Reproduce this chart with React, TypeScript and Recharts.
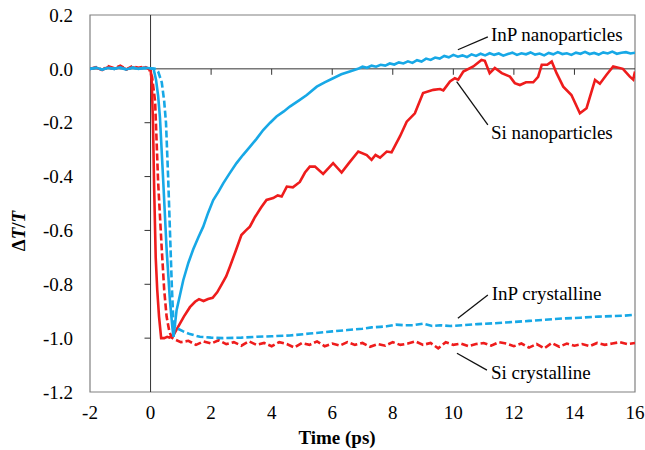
import React from 'react';
import { LineChart, Line, XAxis, YAxis, ReferenceLine, ReferenceArea, ReferenceDot } from 'recharts';

const xTicks = [-2, 0, 2, 4, 6, 8, 10, 12, 14, 16];
const yTicks = [0.2, 0, -0.2, -0.4, -0.6, -0.8, -1.0, -1.2];
const xMinorOnZero = [2, 4, 6, 8, 10, 12, 14];
const yMinorOnZero = [-0.2, -0.4, -0.6, -0.8, -1.0];

// Si crystalline (red dashed)
const siCrystT = [-2, -1.8, -1.6, -1.4, -1.2, -1, -0.8, -0.6, -0.4, -0.2, -0.05, 0.05, 0.15, 0.25, 0.37, 0.45, 0.53, 0.62, 0.7,
  0.8, 1.0, 1.25, 1.5, 1.75, 2.0, 2.25, 2.5, 2.75, 3.0, 3.25, 3.5, 3.75, 4.0, 4.25, 4.5, 4.75, 5.0, 5.25, 5.5, 5.75, 6.0, 6.25, 6.5, 6.75, 7.0, 7.25, 7.5, 7.75, 8.0, 8.25, 8.5, 8.75, 9.0, 9.25, 9.5, 9.75, 10.0, 10.25, 10.5, 10.75, 11.0, 11.25, 11.5, 11.75, 12.0, 12.25, 12.5, 12.75, 13.0, 13.25, 13.5, 13.75, 14.0, 14.25, 14.5, 14.75, 15.0, 15.25, 15.5, 15.75, 16.0];
const siCrystV = [0.0, 0.006, -0.004, 0.01, 0.002, 0.012, -0.002, 0.01, 0.004, 0.008, 0.0, -0.03, -0.12, -0.42, -0.67, -0.82, -0.92, -0.975, -0.998,
  -1.005, -1.015, -1.01, -1.025, -1.012, -1.02, -1.008, -1.022, -1.015, -1.028, -1.012, -1.025, -1.018, -1.03, -1.015, -1.022, -1.035, -1.018, -1.025, -1.012, -1.03, -1.02, -1.028, -1.015, -1.025, -1.018, -1.032, -1.022, -1.028, -1.015, -1.025, -1.02, -1.012, -1.025, -1.018, -1.038, -1.015, -1.025, -1.02, -1.03, -1.022, -1.018, -1.028, -1.015, -1.02, -1.03, -1.02, -1.035, -1.022, -1.038, -1.018, -1.032, -1.02, -1.028, -1.022, -1.03, -1.018, -1.025, -1.02, -1.015, -1.022, -1.018];

// Si nanoparticles (red solid)
const siNanoT = [-2, -1.8, -1.6, -1.4, -1.2, -1, -0.8, -0.6, -0.4, -0.2, 0.0, 0.04, 0.08, 0.12, 0.17, 0.22, 0.28, 0.35, 0.45, 0.55, 0.62, 0.75, 0.9, 1.1, 1.3, 1.47, 1.6, 1.75, 1.9, 2.05, 2.2, 2.35, 2.5, 2.62, 2.8, 3.0, 3.15, 3.28, 3.45, 3.65, 3.83, 4.05, 4.2, 4.33, 4.5, 4.7, 4.93, 5.1, 5.26, 5.43, 5.7, 6.03, 6.31, 6.55, 6.86, 7.14, 7.3, 7.43, 7.58, 7.8, 7.96, 8.24, 8.46, 8.73, 9.0, 9.34, 9.56, 9.67, 9.89, 10.05, 10.16, 10.33, 10.66, 10.93, 11.04, 11.2, 11.37, 11.6, 11.87, 12.03, 12.2, 12.4, 12.64, 12.8, 12.92, 13.1, 13.25, 13.41, 13.63, 13.9, 14.18, 14.4, 14.68, 14.84, 15.06, 15.28, 15.6, 15.83, 15.94, 16.0];
const siNanoV = [0.0, 0.004, -0.003, 0.006, 0.0, 0.008, -0.002, 0.006, 0.002, 0.005, 0.0, -0.05, -0.2, -0.45, -0.7, -0.82, -0.92, -1.0, -1.0, -0.995, -0.998, -0.99, -0.96, -0.92, -0.885, -0.865, -0.855, -0.862, -0.855, -0.85, -0.83, -0.8, -0.77, -0.735, -0.68, -0.617, -0.6, -0.586, -0.55, -0.515, -0.487, -0.48, -0.47, -0.474, -0.437, -0.44, -0.42, -0.385, -0.363, -0.363, -0.39, -0.35, -0.385, -0.35, -0.307, -0.32, -0.338, -0.32, -0.33, -0.307, -0.31, -0.25, -0.196, -0.165, -0.09, -0.078, -0.075, -0.08, -0.047, -0.035, -0.04, -0.01, 0.009, 0.033, 0.03, -0.016, 0.003, -0.016, -0.029, -0.053, -0.06, -0.05, -0.05, -0.03, 0.015, 0.015, 0.027, -0.016, -0.066, -0.097, -0.165, -0.146, -0.041, -0.055, -0.022, 0.009, 0.0, -0.029, -0.04, -0.01];

// InP crystalline (blue dashed)
const inpCrystT = [-2, -1.8, -1.6, -1.4, -1.2, -1, -0.8, -0.6, -0.4, -0.2, 0.0, 0.15, 0.25, 0.37, 0.45, 0.51, 0.58, 0.64, 0.7, 0.75, 0.8, 0.9, 1.08, 1.3, 1.63, 2.0, 2.4, 3.0, 3.5, 4.0, 4.6, 5.26, 6.0, 6.5, 7.0, 7.3, 7.58, 7.8, 8.1, 8.4, 8.68, 9.0, 9.3, 9.56, 9.9, 10.33, 10.8, 11.3, 11.98, 12.5, 13.0, 13.63, 14.2, 14.8, 15.28, 15.6, 16.0];
const inpCrystV = [0.0, 0.003, -0.002, 0.004, 0.0, 0.003, -0.002, 0.004, 0.0, 0.002, 0.002, 0.0, -0.01, -0.05, -0.12, -0.2, -0.4, -0.6, -0.8, -0.93, -0.955, -0.965, -0.975, -0.985, -0.995, -0.998, -1.0, -0.998, -0.995, -0.993, -0.99, -0.983, -0.975, -0.97, -0.965, -0.96, -0.958, -0.956, -0.95, -0.952, -0.952, -0.946, -0.955, -0.952, -0.955, -0.952, -0.948, -0.945, -0.94, -0.936, -0.932, -0.927, -0.924, -0.92, -0.918, -0.917, -0.913];

// InP nanoparticles (blue solid)
const inpNanoT = [-2, -1.8, -1.6, -1.4, -1.2, -1, -0.8, -0.6, -0.4, -0.2, 0.0, 0.1, 0.18, 0.25, 0.31, 0.42, 0.53, 0.64, 0.72, 0.76, 0.86, 1.08, 1.25, 1.41, 1.58, 1.74, 1.9, 2.07, 2.25, 2.4, 2.6, 2.84, 3.05, 3.28, 3.5, 3.72, 3.95, 4.16, 4.4, 4.6, 4.93, 5.16, 5.49, 5.75, 6.03, 6.3, 6.58,
  6.85, 7.0, 7.15, 7.3, 7.45, 7.6, 7.75, 7.9, 8.05, 8.2, 8.35, 8.5, 8.65, 8.8, 8.95, 9.1, 9.25, 9.4, 9.55, 9.7, 9.85, 10.0, 10.15, 10.3, 10.45, 10.6, 10.75, 10.9, 11.05, 11.2, 11.35, 11.5, 11.65, 11.8, 11.95, 12.1, 12.25, 12.4, 12.55, 12.7, 12.85, 13.0, 13.15, 13.3, 13.45, 13.6, 13.75, 13.9, 14.05, 14.2, 14.35, 14.5, 14.65, 14.8, 14.95, 15.1, 15.25, 15.4, 15.55, 15.7, 15.85, 16.0];
const inpNanoV = [0.0, 0.005, -0.003, 0.004, 0.0, 0.006, -0.002, 0.005, 0.0, 0.004, 0.002, 0.0, -0.04, -0.1, -0.18, -0.42, -0.67, -0.86, -0.96, -0.995, -0.896, -0.785, -0.72, -0.67, -0.625, -0.586, -0.535, -0.487, -0.455, -0.425, -0.39, -0.35, -0.32, -0.29, -0.26, -0.227, -0.2, -0.177, -0.158, -0.14, -0.115, -0.097, -0.066, -0.05, -0.035, -0.02, -0.01,
  0.0, 0.008, 0.004, 0.012, 0.008, 0.015, 0.012, 0.02, 0.016, 0.024, 0.02, 0.028, 0.022, 0.032, 0.027, 0.038, 0.033, 0.042, 0.038, 0.048, 0.043, 0.052, 0.045, 0.05, 0.044, 0.054, 0.048, 0.056, 0.05, 0.058, 0.052, 0.057, 0.049, 0.055, 0.06, 0.052, 0.058, 0.054, 0.061, 0.053, 0.057, 0.05, 0.059, 0.054, 0.062, 0.055, 0.058, 0.052, 0.06, 0.056, 0.063, 0.055, 0.059, 0.053, 0.061, 0.057, 0.064, 0.056, 0.06, 0.062, 0.057, 0.06];

const labels = [
  { text: 'InP nanoparticles', x: 11.24, y: 0.126, lx1: 10.15, ly1: 0.071, lx2: 11.14, ly2: 0.119 },
  { text: 'Si nanoparticles', x: 11.24, y: -0.238, lx1: 10.11, ly1: -0.047, lx2: 11.14, ly2: -0.208 },
  { text: 'InP crystalline', x: 11.27, y: -0.833, lx1: 10.15, ly1: -0.926, lx2: 11.14, ly2: -0.84 },
  { text: 'Si crystalline', x: 11.24, y: -1.126, lx1: 10.12, ly1: -1.056, lx2: 11.11, ly2: -1.119 },
];

const rows = (t: number[], v: number[]) => t.map((x, i) => ({ t: x, v: v[i] }));

const FONT = "'Liberation Serif', 'Times New Roman', serif";
const RED = '#EE1C1C';
const BLUE = '#17A8E6';
const tickStyle = { fill: '#000', fontSize: 19, fontFamily: FONT, style: { fontFamily: FONT } };

export default function App() {
  return (
    <div style={{ position: 'absolute', left: 0, top: 0, width: 645, height: 450, background: '#fff', fontFamily: FONT }}>
      <LineChart width={645} height={450} margin={{ top: 15, right: 10, left: 10, bottom: 28 }} style={{ fontFamily: FONT }}>
        <XAxis
          type="number"
          dataKey="t"
          domain={[-2, 16]}
          ticks={xTicks}
          allowDataOverflow
          axisLine={false}
          tickLine={false}
          tickSize={0}
          tickMargin={14}
          height={30}
          tick={tickStyle}
          label={{
            content: () => (
              <text x={337} y={444} textAnchor="middle" style={{ fontFamily: FONT }} fontSize={19} fontWeight="bold" fill="#000">
                Time (ps)
              </text>
            ),
          }}
        />
        <YAxis
          type="number"
          domain={[-1.2, 0.2]}
          ticks={yTicks}
          allowDataOverflow
          axisLine={false}
          tickLine={false}
          tickSize={0}
          tickMargin={17}
          width={80}
          tickFormatter={(v: number) => v.toFixed(1)}
          tick={tickStyle}
          label={{
            content: () => (
              <text x={25} y={231} transform="rotate(-90 25 231)" textAnchor="middle" style={{ fontFamily: FONT }} fontSize={19} fontWeight="bold" fill="#000">
                <tspan>Δ</tspan>
                <tspan fontStyle="italic">T</tspan>
                <tspan>/</tspan>
                <tspan fontStyle="italic">T</tspan>
              </text>
            ),
          }}
        />
        <ReferenceArea x1={-2} x2={16} y1={-1.2} y2={0.2} fill="none" stroke="#808080" strokeWidth={1.2} ifOverflow="visible" />
        <ReferenceLine y={0} stroke="#333" strokeWidth={1} />
        <ReferenceLine x={0} stroke="#333" strokeWidth={1} />
        {xMinorOnZero.map((t) => (
          <ReferenceLine key={'xt' + t} segment={[{ x: t, y: 0 }, { x: t, y: -0.022 }]} stroke="#333" strokeWidth={1} />
        ))}
        {yMinorOnZero.map((v) => (
          <ReferenceLine key={'yt' + v} segment={[{ x: -0.2, y: v }, { x: 0, y: v }]} stroke="#333" strokeWidth={1} />
        ))}
        {labels.map((l) => (
          <ReferenceLine key={'ll' + l.text} segment={[{ x: l.lx1, y: l.ly1 }, { x: l.lx2, y: l.ly2 }]} stroke="#111" strokeWidth={1.3} />
        ))}
        {labels.map((l) => (
          <ReferenceDot
            key={'lt' + l.text}
            x={l.x}
            y={l.y}
            r={0}
            shape={(p: any) => (
              <text x={p.cx} y={p.cy} dominantBaseline="central" style={{ fontFamily: FONT }} fontSize={19} fill="#000">
                {l.text}
              </text>
            )}
          />
        ))}
        <Line data={rows(siCrystT, siCrystV)} dataKey="v" type="linear" stroke={RED} strokeWidth={2.6} strokeDasharray="7 3" dot={false} isAnimationActive={false} />
        <Line data={rows(siNanoT, siNanoV)} dataKey="v" type="linear" stroke={RED} strokeWidth={2.6} dot={false} isAnimationActive={false} />
        <Line data={rows(inpCrystT, inpCrystV)} dataKey="v" type="linear" stroke={BLUE} strokeWidth={2.6} strokeDasharray="7 3" dot={false} isAnimationActive={false} />
        <Line data={rows(inpNanoT, inpNanoV)} dataKey="v" type="linear" stroke={BLUE} strokeWidth={2.6} dot={false} isAnimationActive={false} />
      </LineChart>
    </div>
  );
}
